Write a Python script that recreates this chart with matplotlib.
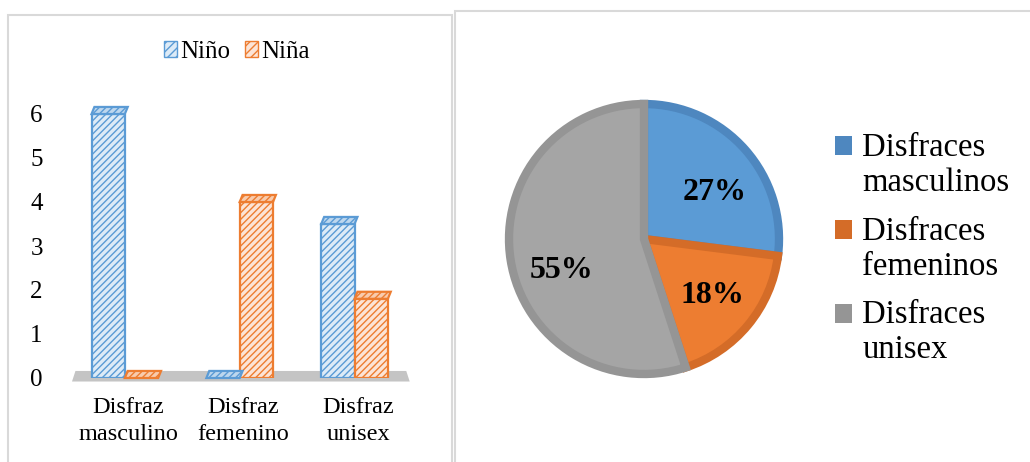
import matplotlib
matplotlib.use("Agg")
import matplotlib.pyplot as plt
from matplotlib.patches import Polygon, Patch, Rectangle
import numpy as np

# ---- data ----
categories = ["Disfraz\nmasculino", "Disfraz\nfemenino", "Disfraz\nunisex"]
series_names = ["Niño", "Niña"]
nino = [6, 0, 3.5]
nina = [0, 4, 1.8]
yticks = [0, 1, 2, 3, 4, 5, 6]

pie_labels = ["Disfraces\nmasculinos", "Disfraces\nfemeninos", "Disfraces\nunisex"]
pie_values = [27, 18, 55]

# ---- style ----
plt.rcParams['font.family'] = ['Liberation Serif', 'DejaVu Serif']
plt.rcParams['hatch.linewidth'] = 1.0

blue = "#5B9BD5"
orange = "#ED7D31"
gray = "#A5A5A5"
blue_fill = "#DDEBF7"
orange_fill = "#FCE4D6"

W, H = 1030, 462
fig = plt.figure(figsize=(W / 100, H / 100), dpi=100)

def fx(px):
    return px / W
def fy(py):
    return 1 - py / H

# panel borders
fig.patches.append(Rectangle((fx(8), fy(470)), fx(452) - fx(8), fy(15) - fy(470),
                             transform=fig.transFigure, fill=False,
                             edgecolor="#D9D9D9", linewidth=1.5))
fig.patches.append(Rectangle((fx(455), fy(470)), fx(1040) - fx(455), fy(11) - fy(470),
                             transform=fig.transFigure, fill=False,
                             edgecolor="#D9D9D9", linewidth=1.5))

# ---- bar chart ----
ax = fig.add_axes([fx(72), fy(378), fx(412) - fx(72), fy(114) - fy(378)])
x = np.arange(len(categories))
bw = 0.29
b1 = ax.bar(x - 0.145, nino, bw, color=blue_fill, edgecolor=blue, hatch="/////",
            linewidth=1.6, zorder=3)
b2 = ax.bar(x + 0.145, nina, bw, color=orange_fill, edgecolor=orange, hatch="/////",
            linewidth=1.6, zorder=3)
ax.set_xlim(-0.46, 2.5)
ax.set_ylim(0, 6)

# floor
floor = Polygon([(-0.46, -0.08), (2.48, -0.08), (2.45, 0.16), (-0.43, 0.16)],
                closed=True, facecolor="#C4C4C4", edgecolor="none", zorder=1,
                clip_on=False)
ax.add_patch(floor)

# top faces (3D look)
dx, dy = 0.025, 0.16
for bars, ec, fc in ((b1, blue, "#BDD7EE"), (b2, orange, "#F8CBAD")):
    for b in bars:
        x0 = b.get_x()
        x1 = x0 + b.get_width()
        v = b.get_height()
        top = Polygon([(x0, v), (x1, v), (x1 + dx, v + dy), (x0 + dx, v + dy)],
                      closed=True, facecolor=fc, edgecolor=ec, hatch="/////",
                      linewidth=1.6, zorder=4, clip_on=False)
        ax.add_patch(top)

ax.set_yticks(yticks)
ax.set_xticks(x + 0.03)
ax.set_xticklabels(categories, fontsize=17.5, linespacing=1.35)
ax.tick_params(axis='y', labelsize=18, length=0, pad=21)
ax.tick_params(axis='x', length=0, pad=14)
for s in ax.spines.values():
    s.set_visible(False)

handles = [Patch(facecolor=blue_fill, edgecolor=blue, hatch="////", label=series_names[0]),
           Patch(facecolor=orange_fill, edgecolor=orange, hatch="////", label=series_names[1])]
fig.legend(handles=handles, loc="center", bbox_to_anchor=(fx(237), fy(52)), ncol=2,
           frameon=False, fontsize=18, handlelength=0.5, handleheight=0.6,
           handletextpad=0.15, columnspacing=0.6)

# ---- pie chart ----
r_px = 135
lim = 1.06
side = 2 * r_px * lim
cx, cy = 644, 239
pax = fig.add_axes([fx(cx - side / 2), fy(cy + side / 2), side / W, side / H])
wedges, texts, autotexts = pax.pie(pie_values, colors=[blue, orange, gray],
                                   startangle=90, counterclock=False,
                                   autopct='%1.0f%%', pctdistance=0.66,
                                   wedgeprops=dict(linewidth=6),
                                   textprops=dict(fontsize=23, fontweight='bold', color='black'))
for w, ec in zip(wedges, ["#4E87BF", "#D46C28", "#959595"]):
    w.set_edgecolor(ec)
    w.set_clip_on(False)
# label placement nudges to match the reference
px_, py_ = autotexts[2].get_position()
autotexts[2].set_position((px_ + 0.04, py_ - 0.13))
px_, py_ = autotexts[0].get_position()
autotexts[0].set_position((px_ + 0.03, py_ - 0.09))
pax.set_xlim(-lim, lim)
pax.set_ylim(-lim, lim)
pax.set_aspect('equal')

fs = 23.5
leg_handles = [Patch(facecolor=c, edgecolor='none', label=l)
               for c, l in zip(["#4E87BF", "#D46C28", "#959595"], pie_labels)]
leg = fig.legend(handles=leg_handles, loc="upper left", bbox_to_anchor=(fx(806), fy(103)),
                 frameon=False, fontsize=fs, handlelength=0.52, handleheight=0.52,
                 handletextpad=0.3, labelspacing=0.55)
# align each square with the first line of its label
for p in leg.get_patches():
    p.set_y(p.get_y() + 0.6 * fs)

fig.savefig("out.png", dpi=100)
